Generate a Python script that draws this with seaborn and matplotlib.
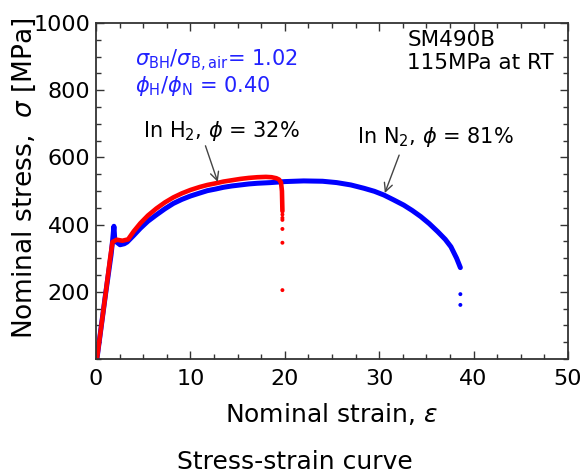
import numpy as np
import pandas as pd
import seaborn as sns
import matplotlib.pyplot as plt
from matplotlib.ticker import MultipleLocator

# H2 curve (red)
strain_h = [0.1, 1.0, 1.5, 1.75, 2.2, 2.8, 3.4, 4.0, 4.7, 5.5, 6.4, 7.3, 8.2, 9.1,
            10.0, 11.0, 11.8, 12.7, 13.5, 14.4, 15.3, 16.2, 17.1, 18.0, 18.6,
            19.1, 19.4, 19.6, 19.7, 19.75]
stress_h = [0, 190, 300, 348, 355, 352, 356, 380, 404, 427, 448, 466, 481, 493,
            503, 512, 518, 523, 528, 532, 536, 539, 541, 542, 541,
            538, 534, 525, 500, 440]
drop_strain_h = [19.75, 19.75, 19.75, 19.75, 19.75, 19.75]
drop_stress_h = [430, 420, 414, 387, 346, 205]

# N2 curve (blue)
strain_n = [0.1, 1.0, 1.6, 1.75, 1.9, 2.0, 2.55, 3.0, 3.3, 4.0, 4.7, 5.5, 6.4,
            7.3, 8.2, 9.1, 10.0, 11.0, 11.8, 12.7, 13.5, 14.4, 15.3, 16.2, 17.1,
            18.5, 20.0, 22.0, 24.0, 25.5, 27.0, 28.4, 29.5, 30.5, 31.5, 32.6,
            33.5, 34.4, 35.3, 36.2, 37.0, 37.6, 38.2, 38.6]
stress_n = [0, 190, 310, 350, 395, 352, 340, 343, 348, 368, 389, 410, 429,
            447, 463, 475, 485, 494, 501, 506, 511, 515, 518, 521, 523,
            525, 528, 530, 529, 525, 518, 508, 499, 488, 474, 458,
            442, 424, 403, 379, 356, 334, 300, 272]
drop_strain_n = [38.6, 38.6]
drop_stress_n = [193, 161]

df_h = pd.DataFrame({'strain': strain_h, 'stress': stress_h})
df_n = pd.DataFrame({'strain': strain_n, 'stress': stress_n})

sns.set_style('ticks')
plt.rcParams['font.family'] = ['DejaVu Sans']
plt.rcParams['mathtext.fontset'] = 'dejavusans'
plt.rcParams['text.color'] = 'black'
plt.rcParams['axes.labelcolor'] = 'black'

fig = plt.figure(figsize=(5.87, 4.76), dpi=100)
ax = fig.add_axes([0.1635, 0.2458, 0.8041, 0.7059])

blue = '#0000ff'
red = '#ff0000'

sns.lineplot(data=df_n, x='strain', y='stress', sort=False, color=blue,
             linewidth=3.6, ax=ax)
sns.scatterplot(x=drop_strain_n, y=drop_stress_n, color=blue, s=8,
                edgecolor='none', ax=ax)
sns.lineplot(data=df_h, x='strain', y='stress', sort=False, color=red,
             linewidth=3.3, ax=ax)
sns.scatterplot(x=drop_strain_h, y=drop_stress_h, color=red, s=8,
                edgecolor='none', ax=ax)

ax.set_xlim(0, 50)
ax.set_ylim(0, 1000)
ax.set_xticks([0, 10, 20, 30, 40, 50])
ax.set_yticks([200, 400, 600, 800, 1000])
ax.xaxis.set_minor_locator(MultipleLocator(2.5))
ax.yaxis.set_minor_locator(MultipleLocator(50))
ax.tick_params(which='both', direction='in', top=True, right=True,
               color='#333333', width=1.0, labelcolor='black')
ax.tick_params(which='major', length=6, labelsize=16)
ax.tick_params(which='minor', length=3.5)
ax.tick_params(axis='x', pad=7)
ax.tick_params(axis='y', pad=4)
for sp in ax.spines.values():
    sp.set_linewidth(1.3)
    sp.set_color('#333333')

ax.set_xlabel(r'Nominal strain, $\varepsilon$', fontsize=18, labelpad=9)
ax.set_ylabel(r'Nominal stress,  $\sigma$ [MPa]', fontsize=19)
ax.yaxis.set_label_coords(-0.123, 0.539)

ax.text(4.1, 888, r'$\sigma_{\rm BH}/\sigma_{\rm B,air}$= 1.02', color='#2222ff',
        fontsize=15, va='center', ha='left')
ax.text(4.1, 812, r'$\phi_{\rm H}/\phi_{\rm N}$ = 0.40', color='#2222ff',
        fontsize=15, va='center', ha='left')
ax.text(33.0, 949, 'SM490B', fontsize=15.5, va='center', ha='left')
ax.text(33.0, 881, '115MPa at RT', fontsize=15.5, va='center', ha='left')

ax.annotate(r'In H$_2$, $\phi$ = 32%', xy=(12.9, 527), xytext=(5.0, 680),
            fontsize=15, va='center', ha='left',
            arrowprops=dict(arrowstyle='->', color='#444444', lw=1.0,
                            shrinkA=0, shrinkB=0, relpos=(0.39, 0.0)))
ax.annotate(r'In N$_2$, $\phi$ = 81%', xy=(30.6, 494), xytext=(27.7, 660),
            fontsize=15, va='center', ha='left',
            arrowprops=dict(arrowstyle='->', color='#444444', lw=1.0,
                            shrinkA=2, shrinkB=0, relpos=(0.28, 0.0)))

fig.text(295 / 587, 1 - 462 / 476, 'Stress-strain curve', fontsize=18,
         ha='center', va='center')

fig.savefig('out.png', dpi=100)
